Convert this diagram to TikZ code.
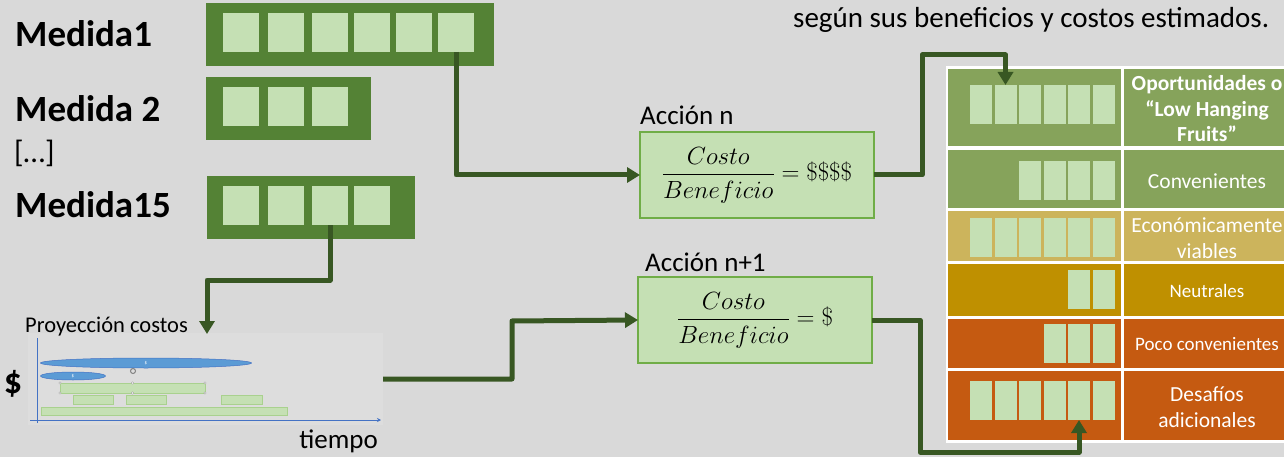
\documentclass[tikz,border=0pt]{standalone}
\usepackage{amsmath}
\usepackage{fontspec}
\setmainfont{Carlito}
\usetikzlibrary{arrows.meta,shapes.geometric}
\definecolor{bgc}{HTML}{D9D9D9}
\definecolor{chartbg}{HTML}{DDDDDD}
\definecolor{darkG}{HTML}{548235}
\definecolor{lightG}{HTML}{C5E0B4}
\definecolor{midG}{HTML}{70AD47}
\definecolor{connG}{HTML}{385723}
\definecolor{rowG}{HTML}{86A35B}
\definecolor{rowK}{HTML}{CCB45C}
\definecolor{rowY}{HTML}{BF9000}
\definecolor{rowO}{HTML}{C55A11}
\definecolor{axisB}{HTML}{4472C4}
\definecolor{ellB}{HTML}{5B9BD5}
\definecolor{barE}{HTML}{A9D18E}
\tikzset{
  rect/.style={anchor=north west,inner sep=0pt,outer sep=0pt,draw=none},
  medbar/.style={rect,fill=darkG,minimum height=63},
  sq/.style={rect,fill=lightG,minimum width=36,minimum height=39},
  tsq/.style={rect,fill=lightG,minimum width=22,minimum height=39},
  conn/.style={draw=connG,line width=5pt,line join=round},
  arr/.style={conn,-{Triangle[width=15pt,length=13pt]}},
  abox/.style={rect,fill=lightG,draw=midG,line width=1.5pt,minimum width=234,minimum height=86},
  medlbl/.style={anchor=base west,inner sep=0pt,font=\fontsize{37}{40}\selectfont\bfseries},
  cell/.style={rect},
  celltxt/.style={text=white,align=center,font=\fontsize{21.5}{25.5}\selectfont,inner sep=0pt},
  cbar/.style={rect,fill=lightG,draw=barE,line width=0.8pt},
  handle/.style={circle,draw=gray,fill=white,line width=0.3pt,minimum size=2.5,inner sep=0pt},
  fracf/.style={font=\fontsize{24}{28}\selectfont,inner sep=0pt},
  actlbl/.style={anchor=base west,inner sep=0pt,font=\fontsize{27}{30}\selectfont},
}
\begin{document}
\begin{tikzpicture}[x=1pt,y=-1pt]
\fill[bgc] (0,0) rectangle (1284,457);
\useasboundingbox (0,0) rectangle (1284,457);

% ---- Medida labels
\node[medlbl] (l1) at (15,47) {Medida1};
\node[medlbl] (l2) at (15,122) {Medida 2};
\node[anchor=base west,inner sep=0pt,font=\fontsize{31}{34}\selectfont] (ld) at (14,163) {[…]};
\node[medlbl] (l15) at (15,218) {Medida15};

% ---- Medida bars
\node[medbar,minimum width=288] (m1) at (206,3) {};
\foreach \x/\n in {223/a,268/b,312/c,354/d,396/e,438/f}
  \node[sq] (m1\n) at (\x,13) {};
\node[medbar,minimum width=165] (m2) at (206,77) {};
\foreach \x/\n in {223/a,268/b,312/c}
  \node[sq] (m2\n) at (\x,87) {};
\node[medbar,minimum width=208] (m15) at (207,176) {};
\foreach \x/\n in {223/a,268/b,312/c,354/d}
  \node[sq] (m15\n) at (\x,186) {};

% ---- Top text
\node[anchor=base west,inner sep=0pt,font=\fontsize{29}{32}\selectfont] (top) at (793,28) {según sus beneficios y costos estimados.};

% ---- Action boxes
\node[abox] (an) at (640,132) {};
\node[fracf] (anf) at (an.center) {$\dfrac{Costo}{Beneficio} = \$\$\$\$$};
\node[actlbl] (anl) at (640,125) {Acción n};

\node[abox] (an1) at (638,277) {};
\node[fracf] (an1f) at (an1.center) {$\dfrac{Costo}{Beneficio} = \$$};
\node[actlbl] (an1l) at (645,271) {Acción n+1};

% ---- Table
\fill[white] (946,66) rectangle (1284,443);
\node[cell,fill=rowG,minimum width=173,minimum height=77] (r1l) at (948,69) {};
\node[cell,fill=rowG,minimum width=160,minimum height=77] (r1r) at (1124,69) {};
\node[cell,fill=rowG,minimum width=173,minimum height=58] (r2l) at (948,150) {};
\node[cell,fill=rowG,minimum width=160,minimum height=58] (r2r) at (1124,150) {};
\node[cell,fill=rowK,minimum width=173,minimum height=50] (r3l) at (948,211) {};
\node[cell,fill=rowK,minimum width=160,minimum height=50] (r3r) at (1124,211) {};
\node[cell,fill=rowY,minimum width=173,minimum height=52] (r4l) at (948,264) {};
\node[cell,fill=rowY,minimum width=160,minimum height=52] (r4r) at (1124,264) {};
\node[cell,fill=rowO,minimum width=173,minimum height=49] (r5l) at (948,319) {};
\node[cell,fill=rowO,minimum width=160,minimum height=49] (r5r) at (1124,319) {};
\node[cell,fill=rowO,minimum width=173,minimum height=69] (r6l) at (948,371) {};
\node[cell,fill=rowO,minimum width=160,minimum height=69] (r6r) at (1124,371) {};

\node[celltxt,font=\fontsize{21.5}{25.5}\selectfont\bfseries] (t1) at (1207,109) {Oportunidades o\\“Low Hanging\\Fruits”};
\node[celltxt] (t2) at (1207,181) {Convenientes};
\node[celltxt] (t3) at (1207,238) {Económicamente\\viables};
\node[celltxt,font=\fontsize{19}{23}\selectfont] (t4) at (1207,291) {Neutrales};
\node[celltxt,font=\fontsize{19}{23}\selectfont] (t5) at (1207,344) {Poco convenientes};
\node[celltxt] (t6) at (1207,407) {Desafíos\\adicionales};

% table squares (right aligned)
\foreach \x/\n in {970/a,994.5/b,1019/c,1043.5/d,1068/e,1092.5/f} {
  \node[tsq] (r1\n) at (\x,85) {};
  \node[tsq] (r3\n) at (\x,218) {};
  \node[tsq] (r6\n) at (\x,381) {};
}
\foreach \x/\n in {1019/c,1043.5/d,1068/e,1092.5/f}
  \node[tsq] (r2\n) at (\x,161) {};
\foreach \x/\n in {1068/e,1092.5/f}
  \node[tsq] (r4\n) at (\x,270) {};
\foreach \x/\n in {1043.5/d,1068/e,1092.5/f}
  \node[tsq] (r5\n) at (\x,324) {};

% ---- Cost projection chart
\node[rect,fill=chartbg,minimum width=355,minimum height=92] (chart) at (28,333) {};
\node[anchor=base west,inner sep=0pt,font=\fontsize{22.5}{26}\selectfont] (ctitle) at (25,332) {Proyección costos};
\node[inner sep=0pt,font=\fontsize{36}{40}\selectfont\bfseries] (cdol) at (13,384) {\$};
\node[anchor=base east,inner sep=0pt,font=\fontsize{27}{30}\selectfont] (ctime) at (378,448) {tiempo};
\coordinate (yb) at (37,423);
\coordinate (yt) at (37,338);
\coordinate (xl) at (30,420);
\coordinate (xr) at (381,420);
\draw[axisB,line width=1pt] (yb) -- (yt);
\draw[axisB,line width=1pt,-{Stealth[length=4pt,width=4pt]}] (xl) -- (xr);
\node[ellipse,fill=ellB,draw=axisB,line width=0.5pt,minimum width=211,minimum height=10,inner sep=0pt,text=white,font=\fontsize{5}{5}\selectfont] (e1) at (146,363) {\$};
\node[ellipse,fill=ellB,draw=axisB,line width=0.5pt,minimum width=65,minimum height=8,inner sep=0pt,text=white,font=\fontsize{5}{5}\selectfont] (e2) at (73,376) {\$};
\node[circle,draw=gray,line width=1pt,minimum size=5,inner sep=0pt] (rot) at (133,371) {};
\node[cbar,minimum width=145,minimum height=10] (b1) at (60,383) {};
\node[cbar,minimum width=40,minimum height=9] (b2) at (73,395) {};
\node[cbar,minimum width=40,minimum height=9] (b3) at (126,395) {};
\node[cbar,minimum width=41,minimum height=9] (b4) at (221,395) {};
\node[cbar,minimum width=246,minimum height=8] (b5) at (41,407) {};
\foreach \a [count=\i] in {north west,north,north east,south west,south,south east}
  \node[handle] (h\i) at (b1.\a) {};

% ---- Connectors
\coordinate (c1) at (922,55);
\coordinate (c2) at (920,452);
\coordinate (c3) at (207,280);
\coordinate (p1) at (207,334);
\coordinate (c4) at (512,321);
\draw[arr] (m1f.south) |- (an.west);
\draw[arr] (an.east) -| (c1) -| (r1b.north);
\draw[arr] (m15c.south) |- (c3) -- (p1);
\draw[arr] (chart.east) -| (c4) -- (an1.west);
\draw[arr] (an1.east) -| (c2) -| (r6e.south);
\end{tikzpicture}
\end{document}
